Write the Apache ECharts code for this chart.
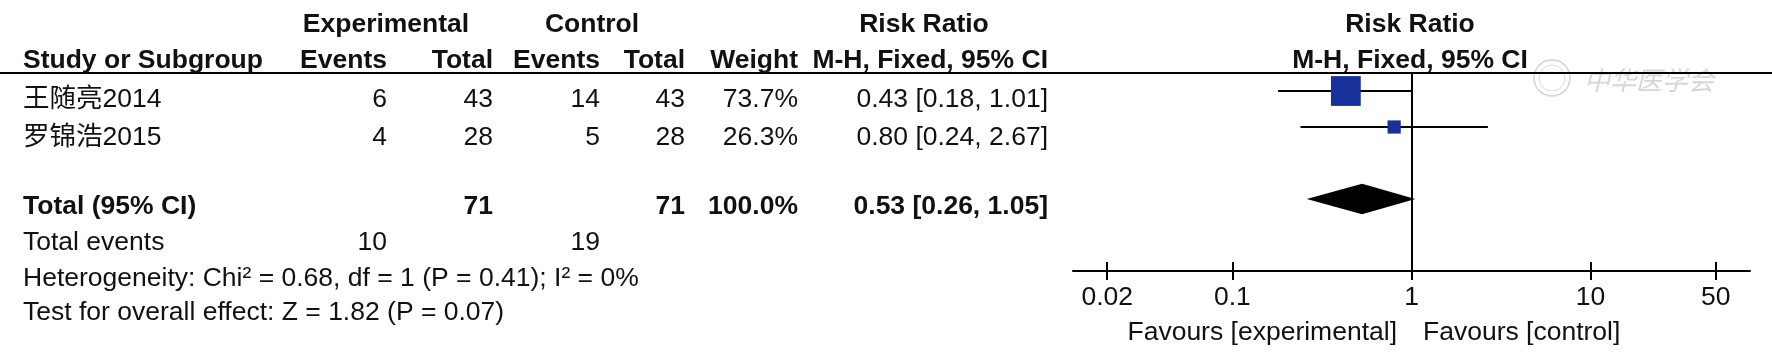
<!DOCTYPE html>
<html><head><meta charset="utf-8">
<script src="https://cdn.jsdelivr.net/npm/echarts@6/dist/echarts.min.js"></script>
<style>html,body{margin:0;padding:0;background:#fff}#c{width:1772px;height:360px}</style>
</head><body><div id="c"></div>
<script>
// ---------- data ----------
const studies = ['王随亮2014', '罗锦浩2015'];
const expEvents = [6, 4];
const expTotal = [43, 28];
const ctlEvents = [14, 5];
const ctlTotal = [43, 28];
const weights = [73.7, 26.3];
const riskRatio = [0.43, 0.80];
const ciLower = [0.18, 0.24];
const ciUpper = [1.01, 2.67];
const totalExpN = 71, totalCtlN = 71, totalWeight = 100.0;
const pooledRR = 0.53, pooledLower = 0.26, pooledUpper = 1.05;
const totalExpEvents = 10, totalCtlEvents = 19;
const heterogeneityText = 'Heterogeneity: Chi² = 0.68, df = 1 (P = 0.41); I² = 0%';
const overallEffectText = 'Test for overall effect: Z = 1.82 (P = 0.07)';
const tickValues = [0.02, 0.1, 1, 10, 50];
const tickLabels = ['0.02', '0.1', '1', '10', '50'];
const favourLeft = 'Favours [experimental]';
const favourRight = 'Favours [control]';

// ---------- layout ----------
const FONT = '"Liberation Sans", Arial, "Noto Sans CJK SC", sans-serif';
const FS = 26.5;
const INK = '#111';
const col = { name: 23, expE: 387, expT: 493, ctlE: 600, ctlT: 685, wt: 798, rr: 1048, plot: 1410 };
const rowY = { h1: 25, h2: 61, rows: [99.5, 138], total: 207, events: 242.5, het: 278.5, test: 312.5, fav: 333 };
const studyRows = [0.5, 1.5];
const totalRow = 3.5;
const L = v => Math.log10(v);
const ci = (r, lo, hi) => r.toFixed(2) + ' [' + lo.toFixed(2) + ', ' + hi.toFixed(2) + ']';

function txt(s, x, y, align, bold) {
  return { type: 'text', x: x, y: y, silent: true, z: 10,
    style: { text: s, fill: INK, fontSize: FS, fontFamily: FONT, fontWeight: bold ? 'bold' : 'normal',
             align: align, verticalAlign: 'middle' } };
}

const g = [];
// watermark
g.push({ type: 'circle', shape: { cx: 1552, cy: 78, r: 18 }, style: { fill: 'none', stroke: '#d4d4d4', lineWidth: 1.5 }, z: 1, silent: true });
g.push({ type: 'circle', shape: { cx: 1552, cy: 78, r: 13 }, style: { fill: 'none', stroke: '#dcdcdc', lineWidth: 1 }, z: 1, silent: true });
g.push({ type: 'text', x: 1584, y: 80, z: 1, silent: true, style: { text: '中华医学会', fill: '#d6d6d6', fontSize: 26, fontFamily: '"Noto Sans CJK SC"', fontStyle: 'italic', align: 'left', verticalAlign: 'middle' } });
// header line
g.push({ type: 'line', shape: { x1: 0, y1: 73, x2: 1772, y2: 73 }, style: { stroke: '#000', lineWidth: 2 }, z: 5, silent: true });
// headers
g.push(txt('Experimental', 386, rowY.h1, 'center', true));
g.push(txt('Control', 592, rowY.h1, 'center', true));
g.push(txt('Risk Ratio', 924, rowY.h1, 'center', true));
g.push(txt('Risk Ratio', col.plot, rowY.h1, 'center', true));
g.push(txt('Study or Subgroup', col.name, rowY.h2, 'left', true));
g.push(txt('Events', col.expE, rowY.h2, 'right', true));
g.push(txt('Total', col.expT, rowY.h2, 'right', true));
g.push(txt('Events', col.ctlE, rowY.h2, 'right', true));
g.push(txt('Total', col.ctlT, rowY.h2, 'right', true));
g.push(txt('Weight', col.wt, rowY.h2, 'right', true));
g.push(txt('M-H, Fixed, 95% CI', col.rr, rowY.h2, 'right', true));
g.push(txt('M-H, Fixed, 95% CI', col.plot, rowY.h2, 'center', true));
// study rows
studies.forEach((s, i) => {
  const y = rowY.rows[i];
  g.push(txt(s, col.name, y, 'left', false));
  g.push(txt(String(expEvents[i]), col.expE, y, 'right', false));
  g.push(txt(String(expTotal[i]), col.expT, y, 'right', false));
  g.push(txt(String(ctlEvents[i]), col.ctlE, y, 'right', false));
  g.push(txt(String(ctlTotal[i]), col.ctlT, y, 'right', false));
  g.push(txt(weights[i].toFixed(1) + '%', col.wt, y, 'right', false));
  g.push(txt(ci(riskRatio[i], ciLower[i], ciUpper[i]), col.rr, y, 'right', false));
});
// total rows
g.push(txt('Total (95% CI)', col.name, rowY.total, 'left', true));
g.push(txt(String(totalExpN), col.expT, rowY.total, 'right', true));
g.push(txt(String(totalCtlN), col.ctlT, rowY.total, 'right', true));
g.push(txt(totalWeight.toFixed(1) + '%', col.wt, rowY.total, 'right', true));
g.push(txt(ci(pooledRR, pooledLower, pooledUpper), col.rr, rowY.total, 'right', true));
g.push(txt('Total events', col.name, rowY.events, 'left', false));
g.push(txt(String(totalExpEvents), col.expE, rowY.events, 'right', false));
g.push(txt(String(totalCtlEvents), col.ctlE, rowY.events, 'right', false));
g.push(txt(heterogeneityText, col.name, rowY.het, 'left', false));
g.push(txt(overallEffectText, col.name, rowY.test, 'left', false));
g.push(txt(favourLeft, col.plot - 13, rowY.fav, 'right', false));
g.push(txt(favourRight, col.plot + 13, rowY.fav, 'left', false));

const tickPos = tickValues.map(L);
function labelFor(v) {
  let best = 0;
  tickPos.forEach((p, i) => { if (Math.abs(p - v) < Math.abs(tickPos[best] - v)) best = i; });
  return tickLabels[best];
}

const gridBox = { left: 1073, right: 22, top: 73, bottom: 89, containLabel: false, outerBoundsMode: 'none' };
const XMIN = -1.89, XMAX = 1.89;

const option = {
  backgroundColor: '#fff',
  animation: false,
  grid: [Object.assign({}, gridBox), Object.assign({}, gridBox)],
  xAxis: [
    { gridIndex: 0, type: 'value', min: XMIN, max: XMAX, position: 'bottom',
      axisLine: { show: true, onZero: false, lineStyle: { color: '#000', width: 2 } },
      axisTick: { show: true, customValues: tickPos, length: 9, lineStyle: { color: '#000', width: 2 } },
      axisLabel: { show: true, customValues: tickPos, formatter: labelFor, margin: 13,
                   color: INK, fontSize: FS, fontFamily: FONT },
      splitLine: { show: false } },
    { gridIndex: 1, type: 'value', min: XMIN, max: XMAX, position: 'bottom',
      axisLine: { show: false, onZero: false },
      axisTick: { show: true, inside: true, customValues: tickPos, length: 9, lineStyle: { color: '#000', width: 2 } },
      axisLabel: { show: false },
      splitLine: { show: false } }
  ],
  yAxis: [
    { gridIndex: 0, type: 'value', min: 0, max: 5.5, inverse: true, show: false },
    { gridIndex: 1, type: 'value', min: 0, max: 5.5, inverse: true, show: false }
  ],
  graphic: { elements: g },
  series: [
    { type: 'custom', xAxisIndex: 0, yAxisIndex: 0, silent: true, clip: false,
      data: studies.map((s, i) => [L(ciLower[i]), L(ciUpper[i]), L(riskRatio[i]), studyRows[i], weights[i]]),
      encode: { x: [0, 1, 2], y: 3 },
      renderItem: function (params, api) {
        const y = api.value(3);
        const p1 = api.coord([api.value(0), y]);
        const p2 = api.coord([api.value(1), y]);
        const pc = api.coord([api.value(2), y]);
        const sz = 4 + 0.35 * api.value(4);
        return { type: 'group', children: [
          { type: 'line', shape: { x1: p1[0], y1: p1[1], x2: p2[0], y2: p2[1] }, style: { stroke: '#000', lineWidth: 2.2 } },
          { type: 'rect', shape: { x: pc[0] - sz / 2, y: pc[1] - sz / 2, width: sz, height: sz }, style: { fill: '#17309a' } }
        ] };
      },
      markLine: { silent: true, symbol: 'none', label: { show: false },
        lineStyle: { color: '#000', width: 2, type: 'solid' },
        data: [{ xAxis: L(1) }] }
    },
    { type: 'custom', xAxisIndex: 0, yAxisIndex: 0, silent: true, clip: false,
      data: [[L(pooledLower), L(pooledUpper), L(pooledRR), totalRow]],
      encode: { x: [0, 1, 2], y: 3 },
      renderItem: function (params, api) {
        const y = api.value(3);
        const pl = api.coord([api.value(0), y]);
        const pr = api.coord([api.value(1), y]);
        const pc = api.coord([api.value(2), y]);
        const h = 15.3;
        return { type: 'polygon', shape: { points: [[pl[0], pl[1]], [pc[0], pc[1] - h], [pr[0], pr[1]], [pc[0], pc[1] + h]] },
                 style: { fill: '#000' } };
      }
    }
  ]
};
echarts.init(document.getElementById('c'), null, { renderer: 'canvas' }).setOption(option);
</script>
</body></html>
